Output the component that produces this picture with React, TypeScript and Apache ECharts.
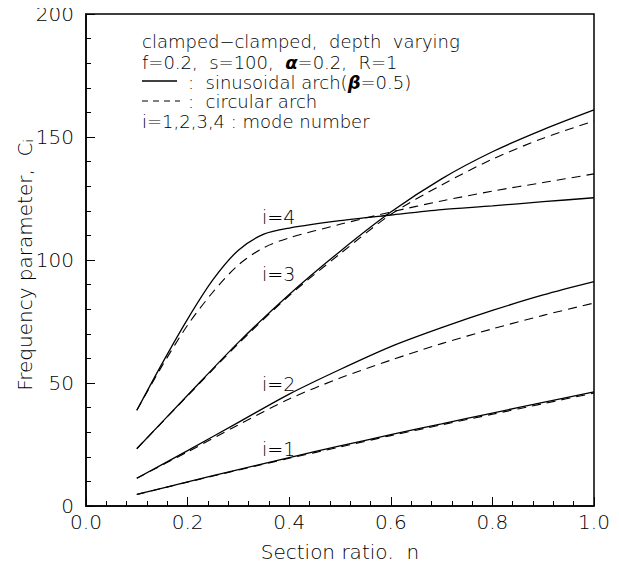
import React, { useEffect, useRef } from "react";
import * as echarts from "echarts";

const nGrid = [0.1, 0.2, 0.3, 0.4, 0.5, 0.6, 0.7, 0.8, 0.9, 1.0];
const nFine = [0.1, 0.15, 0.2, 0.25, 0.3, 0.35, 0.4, 0.5, 0.6, 0.7, 0.8, 0.9, 1.0];

const mode1Sinusoidal = [4.7, 9.8, 14.8, 19.7, 24.4, 29.0, 33.4, 37.8, 42.1, 46.4];
const mode1Circular = [4.7, 9.7, 14.6, 19.4, 24.0, 28.6, 33.0, 37.3, 41.6, 45.9];
const mode2Sinusoidal = [11.3, 22.5, 34.0, 45.5, 55.5, 64.8, 72.5, 79.5, 85.8, 91.2];
const mode2Circular = [11.3, 22.0, 33.0, 43.5, 52.0, 59.3, 66.0, 72.0, 77.5, 82.5];
const mode3Sinusoidal = [23.3, 45.0, 66.5, 86.0, 103.5, 119.5, 133.0, 144.0, 153.0, 161.0];
const mode3Circular = [23.3, 44.8, 66.0, 85.5, 102.5, 118.5, 130.5, 141.0, 149.5, 156.5];
const mode4Sinusoidal = [38.9, 58.0, 76.0, 92.0, 104.0, 110.5, 113.0, 116.0, 118.3, 120.5, 122.0, 123.7, 125.3];
const mode4Circular = [38.9, 57.0, 73.5, 87.0, 98.0, 105.0, 109.0, 114.5, 119.5, 124.0, 128.0, 131.5, 135.0];

const xTicks = [0, 0.2, 0.4, 0.6, 0.8, 1.0];
const yTicks = [0, 50, 100, 150, 200];

const legendLines = [
  "clamped\u2212clamped,  depth  varying",
  "f=0.2,  s=100,  {b|\u03b1}=0.2,  R=1",
  ":  sinusoidal arch({b|\u03b2}=0.5)",
  ":  circular arch",
  "i=1,2,3,4 : mode number",
];
const modeLabels = ["i=1", "i=2", "i=3", "i=4"];
const yAxisTitle = "Frequency parameter,  C{s|i}";
const xAxisTitle = "Section ratio,  n";

const FONT = "DejaVu Sans";

function pairs(xs: number[], ys: number[]) {
  return xs.map((x, i) => [x, ys[i]]);
}

export default function App() {
  const ref = useRef<HTMLDivElement>(null);
  useEffect(() => {
    if (!ref.current) return;
    const chart = echarts.init(ref.current, undefined, { renderer: "svg" });
    const solid = { color: "#000", width: 1.3, type: "solid" as const };
    const dashed = { color: "#000", width: 1.1, type: [9, 6] as any };
    const mk = (name: string, data: number[][], ls: any) => ({
      name,
      type: "line",
      data,
      smooth: 0.3,
      showSymbol: false,
      lineStyle: ls,
      silent: true,
    });
    const textStyle = { fontFamily: FONT, fontSize: 19, fontWeight: 200 as any, color: "#000" };
    const legendStyle = { ...textStyle, fontSize: 18, lineHeight: 18 };
    const rich = { b: { fontFamily: FONT, fontSize: 18, lineHeight: 18, fontWeight: "bold" as any, fontStyle: "italic" as any, color: "#000" } };
    const legendY = [41, 62, 82, 101, 121];
    const labelY = [450, 385, 275, 218];
    const option: any = {
      animation: false,
      backgroundColor: "#fff",
      grid: { left: 86, top: 14, right: 25, bottom: 52, show: true, borderColor: "#000", borderWidth: 1.5 },
      xAxis: {
        type: "value",
        min: 0,
        max: 1,
        interval: 0.2,
        name: xAxisTitle,
        nameLocation: "middle",
        nameGap: 36,
        nameTextStyle: { ...textStyle, fontSize: 20 },
        axisLine: { lineStyle: { color: "#000", width: 1.5 } },
        axisTick: { inside: true, length: 9, lineStyle: { color: "#000" } },
        minorTick: { show: true, splitNumber: 5, length: 5, lineStyle: { color: "#000" } },
        splitLine: { show: false },
        axisLabel: {
          ...textStyle,
          fontSize: 20,
          margin: 6,
          formatter: (v: number) => (xTicks.some((t) => Math.abs(t - v) < 1e-9) ? v.toFixed(1) : ""),
        },
      },
      yAxis: {
        type: "value",
        min: 0,
        max: 200,
        interval: 50,
        axisLine: { lineStyle: { color: "#000", width: 1.5 } },
        axisTick: { inside: true, length: 9, lineStyle: { color: "#000" } },
        minorTick: { show: true, splitNumber: 5, length: 5, lineStyle: { color: "#000" } },
        splitLine: { show: false },
        axisLabel: {
          ...textStyle,
          fontSize: 20,
          margin: 12,
          formatter: (v: number) => (yTicks.includes(v) ? String(v) : ""),
        },
      },
      series: [
        mk("i=1 sinusoidal", pairs(nGrid, mode1Sinusoidal), solid),
        mk("i=1 circular", pairs(nGrid, mode1Circular), dashed),
        mk("i=2 sinusoidal", pairs(nGrid, mode2Sinusoidal), solid),
        mk("i=2 circular", pairs(nGrid, mode2Circular), dashed),
        mk("i=3 sinusoidal", pairs(nGrid, mode3Sinusoidal), solid),
        mk("i=3 circular", pairs(nGrid, mode3Circular), dashed),
        mk("i=4 sinusoidal", pairs(nFine, mode4Sinusoidal), solid),
        mk("i=4 circular", pairs(nFine, mode4Circular), dashed),
      ],
      graphic: [
        {
          type: "text",
          x: 25,
          y: 265,
          rotation: Math.PI / 2,
          style: {
            text: yAxisTitle,
            ...textStyle,
            fontSize: 20,
            align: "center",
            verticalAlign: "middle",
            rich: { s: { ...textStyle, fontSize: 12, verticalAlign: "bottom" } },
          },
        },
        ...legendLines.map((t, i) => ({
          type: "text",
          left: i === 2 || i === 3 ? 188 : 142,
          top: legendY[i] - 9,
          style: { text: t, ...legendStyle, rich },
        })),
        { type: "line", shape: { x1: 142, y1: 81, x2: 177, y2: 81 }, style: { stroke: "#000", lineWidth: 1.3 } },
        { type: "line", shape: { x1: 142, y1: 101, x2: 180, y2: 101 }, style: { stroke: "#000", lineWidth: 1.1, lineDash: [6, 5] } },
        ...modeLabels.map((t, i) => ({
          type: "text",
          left: 262,
          top: labelY[i] - 11,
          style: { text: t, ...textStyle },
        })),
      ],
    };
    chart.setOption(option);
    return () => chart.dispose();
  }, []);
  return <div ref={ref} style={{ width: 619, height: 567, margin: -8 }} />;
}
